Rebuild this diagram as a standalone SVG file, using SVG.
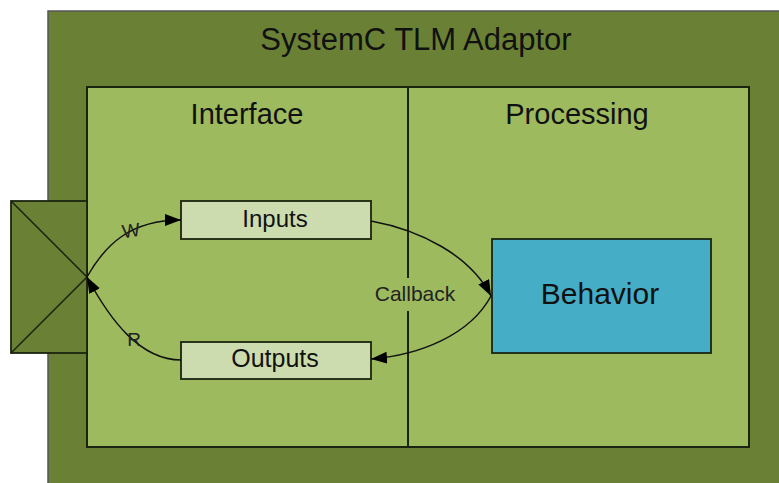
<svg xmlns="http://www.w3.org/2000/svg" width="779" height="483" viewBox="0 0 779 483">
<defs>
<style>
text{font-family:"Liberation Sans",Arial,sans-serif;fill:#111;text-anchor:middle}
.panel{fill:#9dba5f;stroke:#1b2410;stroke-width:2}
.box{fill:#cddcae;stroke:#1b2410;stroke-width:1.8}
.conn{fill:none;stroke:#111;stroke-width:1.5}
</style>
<marker id="arr" markerUnits="userSpaceOnUse" markerWidth="18" markerHeight="14" refX="16" refY="6" orient="auto">
<path d="M0,0 L16,6 L0,12 Z" fill="#000"/>
</marker>
</defs>
<rect width="779" height="483" fill="#fff"/>
<g id="adaptor">
<rect x="48" y="11" width="740" height="490" fill="#6a8135" stroke="#555" stroke-width="1.5"/>
<text x="416" y="50" font-size="31">SystemC TLM Adaptor</text>
</g>
<g id="interface">
<rect class="panel" x="87" y="87" width="321" height="360"/>
<text x="247" y="124" font-size="29">Interface</text>
</g>
<g id="processing">
<rect class="panel" x="408" y="87" width="341" height="360"/>
<text x="577" y="124" font-size="29">Processing</text>
</g>
<g id="port">
<rect x="11" y="201" width="76" height="152" fill="#6a8135" stroke="#1b2410" stroke-width="1.8"/>
<path d="M11,201 L87,277 L11,353" fill="none" stroke="#1b2410" stroke-width="1.5"/>
</g>
<g id="inputs">
<rect class="box" x="181" y="201" width="190" height="38"/>
<text x="275" y="227" font-size="24">Inputs</text>
</g>
<g id="outputs">
<rect class="box" x="181" y="342" width="190" height="37"/>
<text x="275" y="367" font-size="25">Outputs</text>
</g>
<g id="behavior">
<rect x="492" y="239" width="219" height="114" fill="#45adc6" stroke="#1b2410" stroke-width="1.8"/>
<text x="600" y="304" font-size="30">Behavior</text>
</g>
<g id="connectors">
<path class="conn" d="M87,277 C105,245 130,220 181,220" marker-end="url(#arr)"/>
<path class="conn" d="M181,360 C140,360 110,320 87,277" marker-end="url(#arr)"/>
<path class="conn" d="M371,221 C420,230 470,255 491,296" marker-end="url(#arr)"/>
<path class="conn" d="M491,296 C470,335 420,355 371,359" marker-end="url(#arr)"/>
<rect x="374" y="278" width="82" height="33" fill="#9dba5f"/>
<text x="415" y="301" font-size="21" style="fill:#222">Callback</text>
<text x="131" y="237" font-size="19" style="fill:#222" transform="rotate(-8 131 230)">W</text>
<text x="134" y="346" font-size="19" style="fill:#222">R</text>
</g>
</svg>
